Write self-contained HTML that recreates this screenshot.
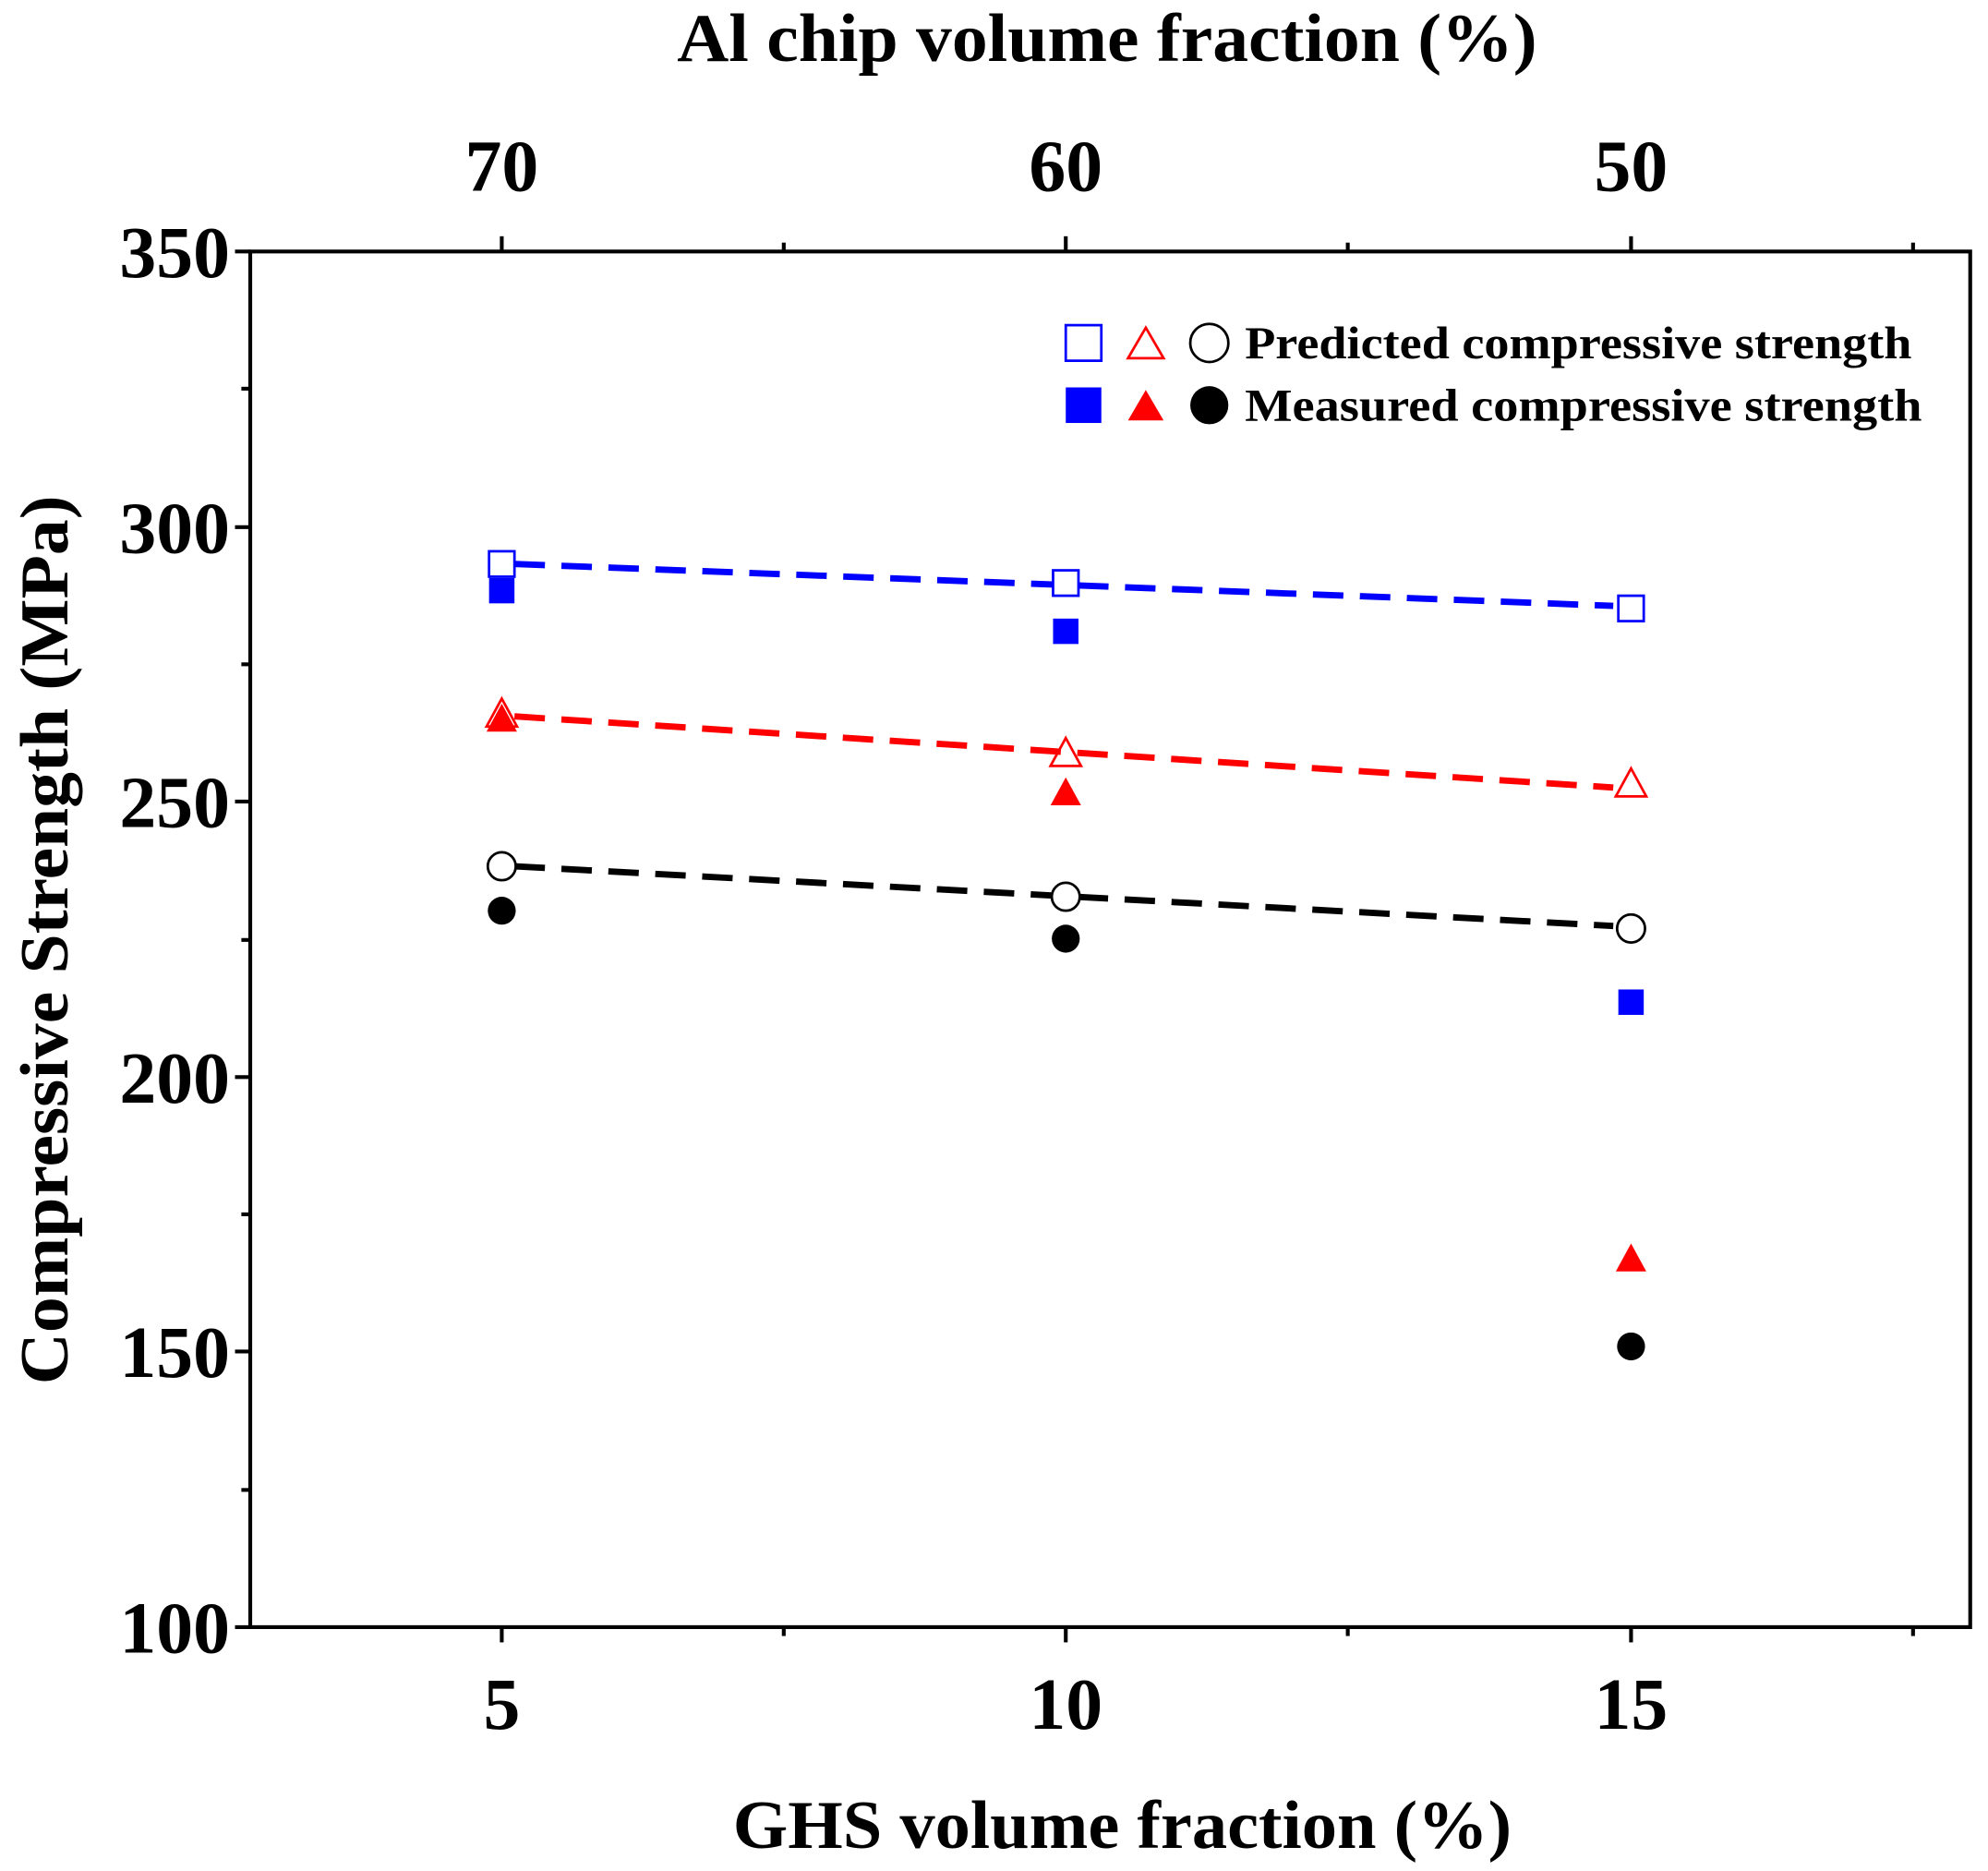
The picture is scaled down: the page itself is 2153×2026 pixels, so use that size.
<!DOCTYPE html>
<html><head><meta charset="utf-8"><style>html,body{margin:0;padding:0;background:#fff}svg{display:block}</style></head>
<body>
<svg width="2153" height="2026" viewBox="0 0 1565 1473" preserveAspectRatio="none" xmlns="http://www.w3.org/2000/svg" font-family="Liberation Serif, serif" font-weight="bold">
<rect x="197" y="198" width="1354" height="1083" fill="none" stroke="#000" stroke-width="3"/>
<g stroke="#000" stroke-width="3">
<line x1="185" y1="198" x2="197" y2="198"/><line x1="185" y1="415" x2="197" y2="415"/><line x1="185" y1="631" x2="197" y2="631"/><line x1="185" y1="848" x2="197" y2="848"/><line x1="185" y1="1064" x2="197" y2="1064"/><line x1="185" y1="1281" x2="197" y2="1281"/>
<line x1="190" y1="306" x2="197" y2="306"/><line x1="190" y1="523" x2="197" y2="523"/><line x1="190" y1="740" x2="197" y2="740"/><line x1="190" y1="956" x2="197" y2="956"/><line x1="190" y1="1173" x2="197" y2="1173"/>
<line x1="395" y1="1281" x2="395" y2="1293"/><line x1="839" y1="1281" x2="839" y2="1293"/><line x1="1284" y1="1281" x2="1284" y2="1293"/>
<line x1="617" y1="1281" x2="617" y2="1288"/><line x1="1061" y1="1281" x2="1061" y2="1288"/><line x1="1506" y1="1281" x2="1506" y2="1288"/>
<line x1="395" y1="198" x2="395" y2="186"/><line x1="839" y1="198" x2="839" y2="186"/><line x1="1284" y1="198" x2="1284" y2="186"/>
<line x1="617" y1="198" x2="617" y2="191"/><line x1="1061" y1="198" x2="1061" y2="191"/><line x1="1506" y1="198" x2="1506" y2="191"/>
</g>
<g font-size="58" text-anchor="end">
<text x="181" y="218">350</text><text x="181" y="435">300</text><text x="181" y="651">250</text><text x="181" y="868">200</text><text x="181" y="1084">150</text><text x="181" y="1301">100</text>
</g>
<g font-size="58" text-anchor="middle">
<text x="395" y="1361">5</text><text x="839" y="1361">10</text><text x="1284" y="1361">15</text>
<text x="395" y="150">70</text><text x="839" y="150">60</text><text x="1284" y="150">50</text>
</g>
<text x="533" y="48" font-size="54" textLength="677" lengthAdjust="spacingAndGlyphs">Al chip volume fraction (%)</text>
<text x="577" y="1455" font-size="54" textLength="613" lengthAdjust="spacingAndGlyphs">GHS volume fraction (%)</text>
<text transform="translate(53,1090) rotate(-90)" font-size="54" textLength="700" lengthAdjust="spacingAndGlyphs">Compressive Strength (MPa)</text>
<g fill="none" stroke-width="5" stroke-dasharray="24,13">
<line x1="405" y1="444" x2="1270" y2="477" stroke="#0000ff"/>
<line x1="405" y1="564" x2="1270" y2="620" stroke="#ff0000"/>
<line x1="405" y1="682" x2="1270" y2="729" stroke="#000"/>
</g>
<g fill="#0000ff"><rect x="385" y="455" width="20" height="20"/><rect x="829" y="487" width="20" height="20"/><rect x="1274" y="779" width="20" height="20"/></g>
<g fill="#fff" stroke="#0000ff" stroke-width="2"><rect x="385" y="434" width="20" height="20"/><rect x="829" y="449" width="20" height="20"/><rect x="1274" y="469" width="20" height="20"/></g>
<g fill="#ff0000"><polygon points="395,554 407,576 383,576"/><polygon points="839,612 851,634 827,634"/><polygon points="1284,979 1296,1001 1272,1001"/></g>
<g fill="none" stroke="#ff0000" stroke-width="2"><polygon points="395,550 407,572 383,572"/><polygon points="839,581 851,603 827,603"/><polygon points="1284,605 1296,627 1272,627"/></g>
<g fill="#000"><circle cx="395" cy="717" r="11"/><circle cx="839" cy="739" r="11"/><circle cx="1284" cy="1060" r="11"/></g>
<g fill="#fff" stroke="#000" stroke-width="2"><circle cx="395" cy="682" r="11"/><circle cx="839" cy="706" r="11"/><circle cx="1284" cy="731" r="11"/></g>
<rect x="839" y="256" width="28" height="28" fill="none" stroke="#0000ff" stroke-width="2"/>
<polygon points="902,258 916,282 888,282" fill="none" stroke="#ff0000" stroke-width="2"/>
<circle cx="952" cy="270" r="15" fill="none" stroke="#000" stroke-width="2"/>
<rect x="839" y="305" width="28" height="28" fill="#0000ff"/>
<polygon points="902,307 916,331 888,331" fill="#ff0000"/>
<circle cx="952" cy="319" r="15" fill="#000"/>
<g font-size="36"><text x="980" y="282" textLength="525" lengthAdjust="spacingAndGlyphs">Predicted compressive strength</text><text x="980" y="331" textLength="533" lengthAdjust="spacingAndGlyphs">Measured compressive strength</text></g>
</svg>
</body></html>
